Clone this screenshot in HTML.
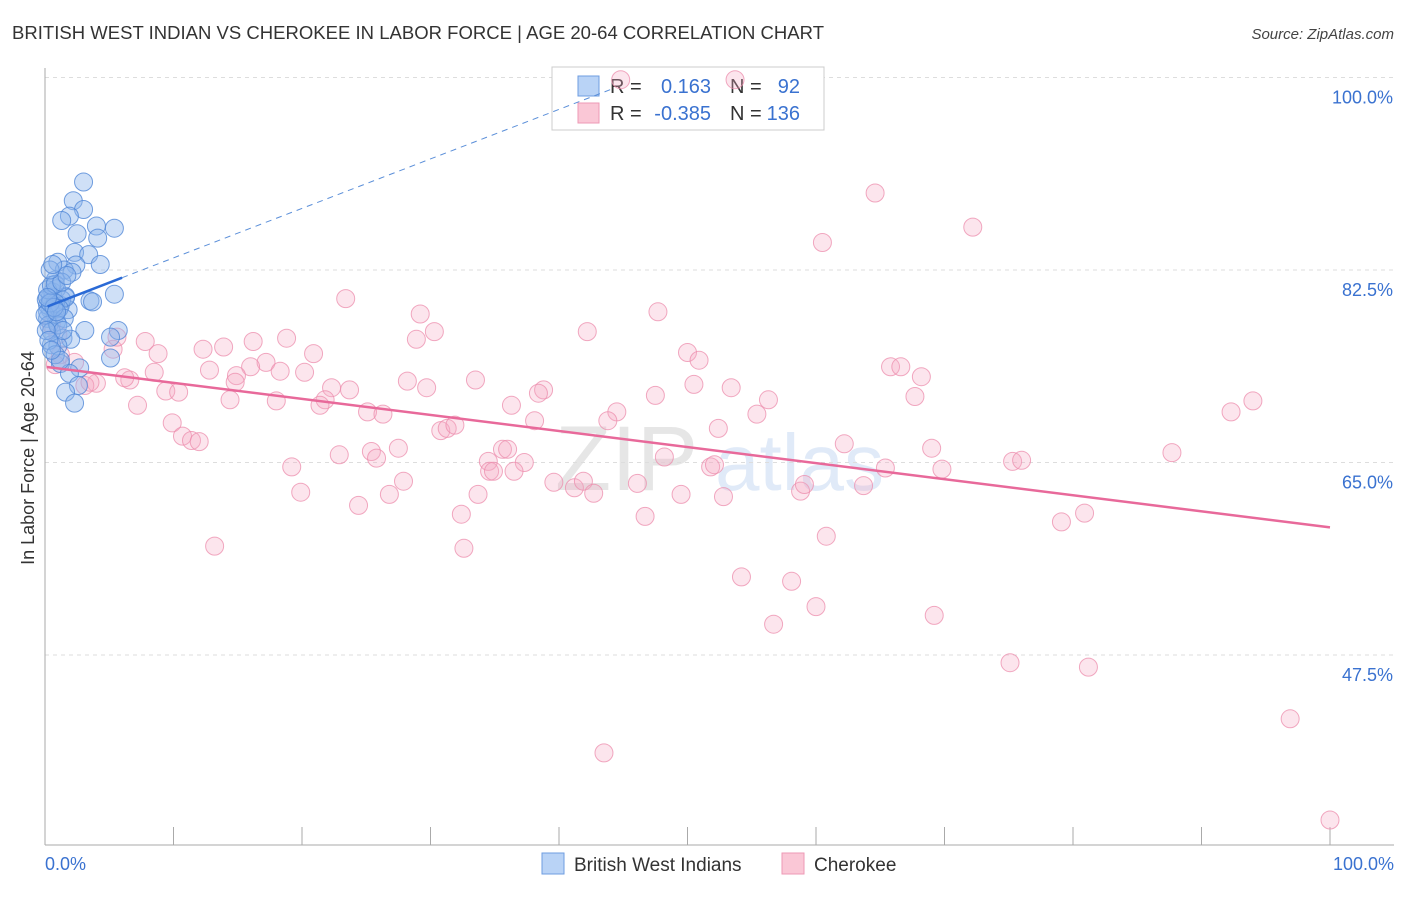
<!DOCTYPE html>
<html><head><meta charset="utf-8"><style>
body{margin:0;background:#fff;font-family:"Liberation Sans",sans-serif}
svg text{font-family:"Liberation Sans",sans-serif}
</style></head><body>
<svg id="chart" width="1406" height="892" viewBox="0 0 1406 892" xmlns="http://www.w3.org/2000/svg">
<text x="12" y="39" font-size="18.5" fill="#333" textLength="812">BRITISH WEST INDIAN VS CHEROKEE IN LABOR FORCE | AGE 20-64 CORRELATION CHART</text>
<text x="1394" y="39" font-size="15" fill="#444" text-anchor="end" font-style="italic">Source: ZipAtlas.com</text>
<text transform="translate(34,458) rotate(-90)" font-size="18" fill="#333" text-anchor="middle">In Labor Force | Age 20-64</text>
<g opacity="0.18"><text x="555" y="490" font-size="92" font-family="Liberation Serif" fill="#777">ZIP</text><text x="715" y="490" font-size="80" fill="#5b8fd9">atlas</text></g>
<g id="grid"></g><g id="axes"></g>
<g>
<rect x="552" y="67" width="272" height="63" fill="#fff" stroke="#ccc"/>
<rect x="578" y="76" width="21" height="20" fill="#b9d3f6" stroke="#6e9de0"/>
<rect x="578" y="103" width="21" height="20" fill="#fac7d6" stroke="#ee9ab5"/>
<text x="610" y="93" font-size="20" fill="#333">R =</text><text x="711" y="93" font-size="20" fill="#3a72d0" text-anchor="end">0.163</text>
<text x="730" y="93" font-size="20" fill="#333">N =</text><text x="800" y="93" font-size="20" fill="#3a72d0" text-anchor="end">92</text>
<text x="610" y="120" font-size="20" fill="#333">R =</text><text x="711" y="120" font-size="20" fill="#3a72d0" text-anchor="end">-0.385</text>
<text x="730" y="120" font-size="20" fill="#333">N =</text><text x="800" y="120" font-size="20" fill="#3a72d0" text-anchor="end">136</text>
</g>
<g id="lines"></g><g id="pts"></g>
<g>
<rect x="542" y="853" width="22" height="21" fill="#b9d3f6" stroke="#6e9de0"/>
<text x="574" y="871" font-size="19" fill="#333">British West Indians</text>
<rect x="782" y="853" width="22" height="21" fill="#fac7d6" stroke="#ee9ab5"/>
<text x="814" y="871" font-size="19" fill="#333">Cherokee</text>
</g>
</svg>
<script>
const yTicks=[100,82.5,65,47.5];
const yTickLabels=["100.0%","82.5%","65.0%","47.5%"];
const xTickLabels=["0.0%","100.0%"];
const bwiX=[3.0,2.2,3.0,1.9,1.3,4.0,5.4,2.5,4.1,2.3,3.4,1.0,4.3,2.4,1.5,2.1,0.8,5.4,3.5,3.7,1.6,0.5,1.2,0.4,1.8,0.8,0.2,0.9,3.1,5.7,5.1,1.4,2.0,0.5,1.0,5.1,1.2,2.7,1.9,2.6,1.6,2.3,0.2,0.4,0.6,0.9,1.3,1.6,0.2,0.3,0.5,0.8,1.1,1.5,0.1,0.2,0.5,0.8,1.3,1.7,0.4,0.6,1.0,1.4,0.0,0.1,0.3,0.8,1.2,0.5,0.4,0.7,0.2,0.9];
const bwiY=[90.5,88.8,88.0,87.4,87.0,86.5,86.3,85.8,85.4,84.1,83.9,83.2,83.0,82.95,82.5,82.3,81.6,80.3,79.7,79.6,80.1,79.8,79.3,78.9,78.9,78.4,78.1,77.8,77.0,77.0,76.4,76.3,76.2,75.7,75.6,74.5,74.0,73.6,73.1,72.0,71.4,70.4,79.3,80.0,80.5,80.8,79.8,80.0,78.7,77.5,76.9,79.5,79.0,78.1,79.8,80.7,81.1,81.2,81.4,82.0,82.5,83.0,77.5,77.0,78.4,77.0,76.1,74.8,74.3,75.2,79.5,79.1,80.0,78.7];
const cheX=[64.6,72.2,60.5,23.4,47.7,29.2,42.2,30.3,28.9,18.8,16.2,7.8,13.9,12.3,5.3,8.8,20.9,50.0,50.9,65.8,66.6,17.2,16.0,18.3,12.8,14.9,20.2,8.5,68.2,6.6,4.0,14.8,6.2,28.2,33.5,50.5,53.4,22.3,23.7,29.7,38.8,38.4,47.5,9.4,10.4,14.4,18.0,7.2,67.7,56.3,21.8,21.4,36.3,25.1,26.3,55.4,92.3,94.0,44.5,43.8,38.1,9.9,30.8,31.3,31.9,52.4,10.7,11.4,12.0,62.2,69.0,27.5,48.2,25.4,25.8,22.9,35.6,36.0,19.2,34.5,37.3,87.7,75.3,76.0,51.8,52.1,65.4,69.8,34.6,34.9,36.5,27.9,39.6,41.2,41.9,42.7,46.1,49.5,52.8,58.8,59.1,63.7,33.7,26.8,19.9,24.4,32.4,46.7,79.1,80.9,60.8,13.2,32.6,54.2,58.1,60.0,69.2,56.7,75.1,81.2,96.9,43.5,100.0,44.8,53.7,5.6,1.2,0.8,2.3,3.1,3.5,0.5,1.0];
const cheY=[89.5,86.4,85.0,79.9,78.7,78.5,76.9,76.9,76.2,76.3,76.0,76.0,75.5,75.3,75.3,74.9,74.9,75.0,74.3,73.7,73.7,74.1,73.7,73.3,73.4,72.9,73.2,73.2,72.8,72.5,72.2,72.3,72.7,72.4,72.5,72.1,71.8,71.8,71.6,71.8,71.6,71.3,71.1,71.5,71.4,70.7,70.6,70.2,71.0,70.7,70.7,70.2,70.2,69.6,69.4,69.4,69.6,70.6,69.6,68.8,68.8,68.6,67.9,68.1,68.4,68.1,67.4,67.0,66.9,66.7,66.3,66.3,65.5,66.0,65.4,65.7,66.2,66.2,64.6,65.1,65.0,65.9,65.1,65.2,64.6,64.8,64.5,64.4,64.2,64.2,64.2,63.3,63.2,62.7,63.3,62.2,63.1,62.1,61.9,62.4,63.0,62.9,62.1,62.1,62.3,61.1,60.3,60.1,59.6,60.4,58.3,57.4,57.2,54.6,54.2,51.9,51.1,50.3,46.8,46.4,41.7,38.6,32.5,99.8,99.8,76.4,74.8,73.9,74.1,72.0,72.3,77.5,76.6];
const bwiTrend=[79.1,0.45];   // intercept, slope
const cheTrend=[73.7,-0.146];
const NS="http://www.w3.org/2000/svg";
const X=v=>45+v*12.85, Y=v=>77.5+(100-v)*11;
function mk(tag,at,parent){const e=document.createElementNS(NS,tag);for(const k in at)e.setAttribute(k,at[k]);document.getElementById(parent).appendChild(e);return e;}
yTicks.forEach((t,i)=>{
 const g=mk('line',{x1:45,x2:1394,y1:Y(t),y2:Y(t),stroke:'#ddd','stroke-dasharray':'4,4'},'grid');
 
 
 const tx=mk('text',{x:1393,y:Y(t)+26,'font-size':18,fill:'#3a72d0','text-anchor':'end'},'axes');tx.textContent=yTickLabels[i];
 
 
});
const ax=mk('line',{x1:45,x2:45,y1:68,y2:845,stroke:'#aaa'},'axes');


const bx=mk('line',{x1:45,x2:1394,y1:845,y2:845,stroke:'#aaa'},'axes');


for(let i=0;i<=10;i++){const t=mk('line',{x1:X(i*10),x2:X(i*10),y1:827,y2:845,stroke:'#aaa'},'axes');
 
 }
[[0,'start',45],[100,'end',1394]].forEach((d,i)=>{const t=mk('text',{x:d[2],y:870,'font-size':18,fill:'#3a72d0','text-anchor':d[1]},'axes');t.textContent=xTickLabels[i];
 
 });
cheX.forEach((x,i)=>{const c=mk('circle',{cx:X(x),cy:Y(cheY[i]),r:9,fill:'rgba(246,170,195,0.3)',stroke:'rgba(236,140,172,0.75)','stroke-width':1},'pts');
 
 });
bwiX.forEach((x,i)=>{const c=mk('circle',{cx:X(x),cy:Y(bwiY[i]),r:9,fill:'rgba(140,180,235,0.42)',stroke:'rgba(80,135,215,0.8)','stroke-width':1},'pts');
 
 });
const bf=v=>bwiTrend[0]+bwiTrend[1]*v, cf=v=>cheTrend[0]+cheTrend[1]*v;
const l1=mk('line',{x1:X(6),y1:Y(bf(6)),x2:X(44),y2:Y(bf(44)),stroke:'#5b8fd9','stroke-width':1,'stroke-dasharray':'6,5'},'lines');


const l2=mk('line',{x1:X(0.2),y1:Y(bf(0.2)),x2:X(6),y2:Y(bf(6)),stroke:'#2a6ad6','stroke-width':2.5},'pts');


const l3=mk('line',{x1:X(0.15),y1:Y(cf(0.15)),x2:X(100),y2:Y(cf(100)),stroke:'#e8699a','stroke-width':2.5},'pts');


</script>
</body></html>
